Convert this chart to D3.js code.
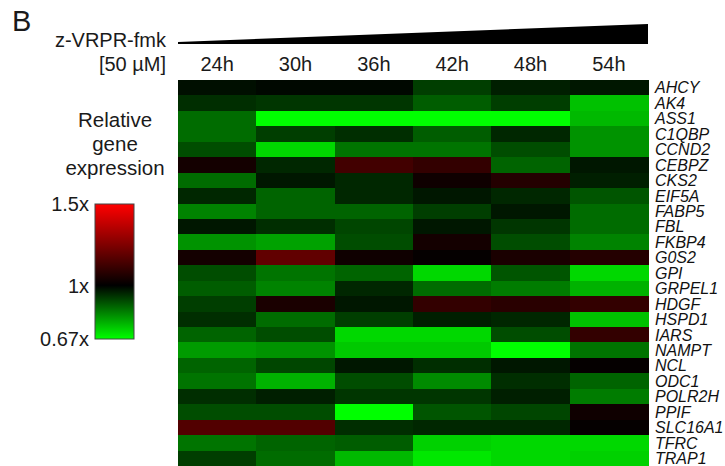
<!DOCTYPE html>
<html>
<head>
<meta charset="utf-8">
<script src="https://cdn.jsdelivr.net/npm/d3@7"></script>
<style>
  body { margin: 0; background: #fff; }
  svg { display: block; font-family: "Liberation Sans", Arial, sans-serif; }
</style>
</head>
<body>
<div id="chart"></div>
<script>
const timepoints = ["24h", "30h", "36h", "42h", "48h", "54h"];
const genes = ["AHCY", "AK4", "ASS1", "C1QBP", "CCND2", "CEBPZ", "CKS2", "EIF5A",
  "FABP5", "FBL", "FKBP4", "G0S2", "GPI", "GRPEL1", "HDGF", "HSPD1", "IARS",
  "NAMPT", "NCL", "ODC1", "POLR2H", "PPIF", "SLC16A1", "TFRC", "TRAP1"];

// relative expression (fold change), one row per gene, one value per timepoint
const expression = [
  [0.98, 0.99, 0.99, 0.92, 0.96, 0.97],
  [0.94, 0.93, 0.93, 0.88, 0.92, 0.75],
  [0.86, 0.67, 0.67, 0.67, 0.67, 0.76],
  [0.86, 0.92, 0.94, 0.88, 0.95, 0.81],
  [0.90, 0.72, 0.85, 0.85, 0.90, 0.81],
  [1.04, 0.95, 1.13, 1.10, 0.87, 0.97],
  [0.86, 0.97, 0.95, 1.03, 1.07, 0.96],
  [0.95, 0.87, 0.95, 0.97, 0.95, 0.89],
  [0.83, 0.87, 0.87, 0.92, 0.97, 0.86],
  [0.97, 0.94, 0.91, 0.97, 0.93, 0.86],
  [0.81, 0.79, 0.90, 1.04, 0.90, 0.83],
  [1.04, 1.19, 1.03, 1.01, 1.05, 1.07],
  [0.90, 0.85, 0.87, 0.72, 0.89, 0.72],
  [0.88, 0.83, 0.95, 0.86, 0.84, 0.77],
  [0.92, 1.05, 0.97, 1.10, 1.08, 1.10],
  [0.94, 0.86, 0.92, 0.96, 0.95, 0.75],
  [0.87, 0.90, 0.72, 0.72, 0.90, 1.10],
  [0.80, 0.81, 0.74, 0.74, 0.67, 0.85],
  [0.87, 0.91, 0.97, 0.94, 0.97, 1.01],
  [0.85, 0.77, 0.90, 0.82, 0.94, 0.87],
  [0.94, 0.96, 0.93, 0.93, 0.96, 0.84],
  [0.90, 0.90, 0.67, 0.89, 0.91, 1.03],
  [1.16, 1.16, 0.94, 0.95, 0.95, 1.01],
  [0.85, 0.87, 0.88, 0.73, 0.72, 0.72],
  [0.92, 0.86, 0.76, 0.70, 0.72, 0.73]
];

const legendTicks = [1.5, 1, 0.67];
const legendLabels = ["1.5x", "1x", "0.67x"];

const width = 725, height = 466;

const svg = d3.select("#chart").append("svg")
  .attr("width", width)
  .attr("height", height);

const x = d3.scaleBand().domain(timepoints).range([178, 648]);
const y = d3.scaleBand().domain(genes).range([80, 466]);
const color = d3.scaleLinear()
  .domain([0.67, 1, 1.5])
  .range(["#00ff00", "#000000", "#ff0000"])
  .clamp(true);

// cells
const cells = [];
expression.forEach((row, i) => row.forEach((v, j) => {
  cells.push({ gene: genes[i], time: timepoints[j], value: v });
}));

svg.append("g")
  .selectAll("rect")
  .data(cells)
  .join("rect")
  .attr("x", d => x(d.time))
  .attr("y", d => y(d.gene))
  .attr("width", x.bandwidth() + 0.5)
  .attr("height", y.bandwidth() + 0.5)
  .attr("fill", d => color(d.value))
  .attr("shape-rendering", "crispEdges");

// gene labels
svg.append("g")
  .selectAll("text")
  .data(genes)
  .join("text")
  .attr("x", 655)
  .attr("y", d => y(d) + y.bandwidth() / 2)
  .attr("dy", "0.36em")
  .attr("font-size", 16)
  .attr("font-style", "italic")
  .attr("fill", "#111")
  .text(d => d);

// column labels
svg.append("g")
  .selectAll("text")
  .data(timepoints)
  .join("text")
  .attr("x", d => x(d) + x.bandwidth() / 2)
  .attr("y", 71)
  .attr("text-anchor", "middle")
  .attr("font-size", 20)
  .attr("fill", "#1a1a1a")
  .text(d => d);

// header
svg.append("text")
  .attr("x", 12).attr("y", 31)
  .attr("font-size", 29)
  .attr("fill", "#1a1a1a")
  .text("B");

svg.append("text")
  .attr("x", 166).attr("y", 47)
  .attr("text-anchor", "end")
  .attr("font-size", 20)
  .attr("fill", "#1a1a1a")
  .text("z-VRPR-fmk");

svg.append("text")
  .attr("x", 166).attr("y", 71)
  .attr("text-anchor", "end")
  .attr("font-size", 20)
  .attr("fill", "#1a1a1a")
  .text("[50 µM]");

// dose wedge
const [x0, x1] = x.range();
svg.append("path")
  .attr("d", `M${x0},42 L${x1},24 L${x1},44 L${x0},44 Z`)
  .attr("fill", "#000");

// legend
const legend = svg.append("g");
["Relative", "gene", "expression"].forEach((t, i) => {
  legend.append("text")
    .attr("x", 115)
    .attr("y", 127 + i * 24)
    .attr("text-anchor", "middle")
    .attr("font-size", 20.5)
    .attr("fill", "#1a1a1a")
    .text(t);
});

const ly = d3.scaleLinear().domain([0.67, 1.5]).range([339, 204]);

const grad = svg.append("defs").append("linearGradient")
  .attr("id", "legendGrad")
  .attr("x1", 0).attr("y1", 0).attr("x2", 0).attr("y2", 1);
grad.selectAll("stop")
  .data(legendTicks)
  .join("stop")
  .attr("offset", d => (ly(d) - ly(1.5)) / (ly(0.67) - ly(1.5)))
  .attr("stop-color", d => color(d));

legend.append("rect")
  .attr("x", 95)
  .attr("y", ly(1.5))
  .attr("width", 39)
  .attr("height", ly(0.67) - ly(1.5))
  .attr("fill", "url(#legendGrad)")
  .attr("stroke", "#444")
  .attr("stroke-width", 1);

legend.selectAll(".tick")
  .data(legendTicks)
  .join("text")
  .attr("class", "tick")
  .attr("x", 89)
  .attr("y", d => ly(d))
  .attr("dy", "0.36em")
  .attr("text-anchor", "end")
  .attr("font-size", 20)
  .attr("fill", "#1a1a1a")
  .text((d, i) => legendLabels[i]);
</script>
</body>
</html>
